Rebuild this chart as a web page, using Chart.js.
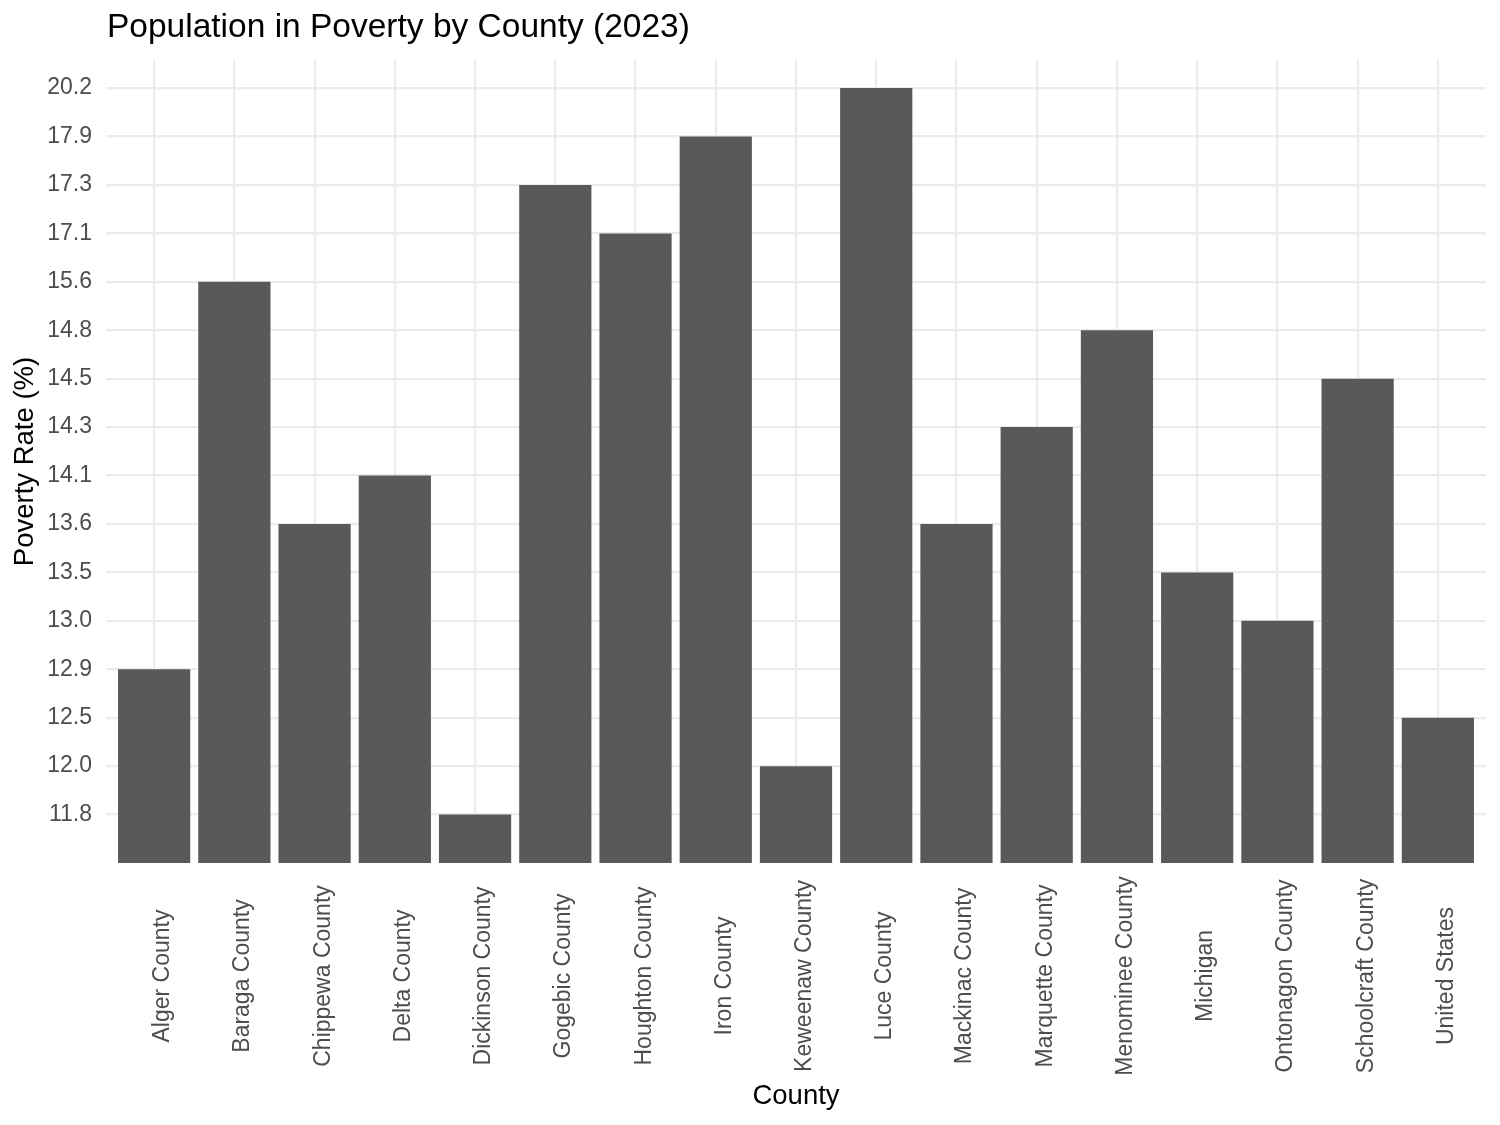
<!DOCTYPE html>
<html><head><meta charset="utf-8">
<script src="https://cdn.jsdelivr.net/npm/chart.js@4"></script>
<style>html,body{margin:0;padding:0;background:#fff}</style>
</head><body>
<canvas id="c" width="1500" height="1125" style="width:1500px;height:1125px"></canvas>
<script>
const counties = ['Alger County','Baraga County','Chippewa County','Delta County','Dickinson County','Gogebic County','Houghton County','Iron County','Keweenaw County','Luce County','Mackinac County','Marquette County','Menominee County','Michigan','Ontonagon County','Schoolcraft County','United States'];
const povertyRates = [12.9, 15.6, 13.6, 14.1, 11.8, 17.3, 17.1, 17.9, 12.0, 20.2, 13.6, 14.3, 14.8, 13.5, 13.0, 14.5, 12.5];
const yTickLabels = ['11.8','12.0','12.5','12.9','13.0','13.5','13.6','14.1','14.3','14.5','14.8','15.6','17.1','17.3','17.9','20.2'];
const chartTitle = 'Population in Poverty by County (2023)';
const xAxisTitle = 'County';
const yAxisTitle = 'Poverty Rate (%)';

const FONT = "'Liberation Sans', Arial, Helvetica, sans-serif";
// discrete (factor) y axis: each value maps to its level position
const rankOf = v => yTickLabels.indexOf(v.toFixed(1)) + 1;
const points = counties.map((c, i) => ({x: i, y: rankOf(povertyRates[i])}));

const textPlugin = {
  id: 'texts',
  afterDraw(chart) {
    const ctx = chart.ctx, ca = chart.chartArea, xs = chart.scales.x;
    ctx.save();
    ctx.fillStyle = '#000';
    ctx.font = '33.5px ' + FONT;
    ctx.textAlign = 'left';
    ctx.textBaseline = 'alphabetic';
    ctx.fillText(chartTitle, ca.left + 1, 37);

    ctx.font = '27.5px ' + FONT;
    ctx.textAlign = 'center';
    ctx.fillText(xAxisTitle, (ca.left + ca.right) / 2, 1104);

    ctx.save();
    ctx.translate(33, (ca.top + ca.bottom) / 2);
    ctx.rotate(-Math.PI / 2);
    ctx.fillText(yAxisTitle, 0, 0);
    ctx.restore();

    ctx.fillStyle = '#4d4d4d';
    ctx.font = '23px ' + FONT;
    counties.forEach((name, i) => {
      const px = xs.getPixelForValue(i);
      ctx.save();
      ctx.translate(px + 15, 976);
      ctx.rotate(-Math.PI / 2);
      ctx.textAlign = 'center';
      ctx.fillText(name, 0, 0);
      ctx.restore();
    });
    ctx.restore();
  }
};

new Chart(document.getElementById('c'), {
  type: 'bar',
  data: {
    datasets: [{
      data: points,
      backgroundColor: '#595959',
      borderWidth: 0,
      barPercentage: 0.9,
      categoryPercentage: 1.0
    }]
  },
  options: {
    responsive: false,
    devicePixelRatio: 1,
    animation: false,
    layout: {padding: {top: 60, right: 14, left: 0, bottom: 0}},
    plugins: {legend: {display: false}, tooltip: {enabled: false}, title: {display: false}},
    scales: {
      x: {
        type: 'linear',
        offset: false,
        min: -0.6,
        max: counties.length - 1 + 0.6,
        afterBuildTicks(s) { s.ticks = counties.map((c, i) => ({value: i})); },
        afterFit(s) { s.height = 262; },
        ticks: {display: false},
        grid: {color: '#ebebeb', lineWidth: 2.2, drawTicks: false, offset: false},
        border: {display: false}
      },
      y: {
        type: 'linear',
        min: 0,
        max: 16.58,
        afterBuildTicks(s) { s.ticks = yTickLabels.map((l, i) => ({value: i + 1})); },
        afterFit(s) { s.width = 106; },
        ticks: {
          padding: 14,
          color: '#4d4d4d',
          font: {family: FONT, size: 23},
          callback: (v) => yTickLabels[Math.round(v) - 1] || ''
        },
        grid: {color: '#ebebeb', lineWidth: 2.2, drawTicks: false},
        border: {display: false}
      }
    }
  },
  plugins: [textPlugin]
});
</script>
</body></html>
